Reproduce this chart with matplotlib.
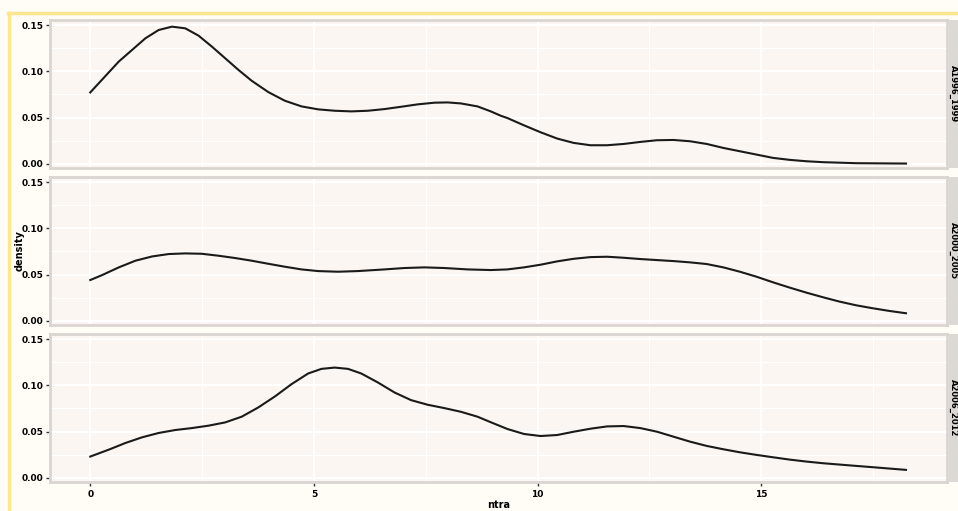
import matplotlib.pyplot as plt
from matplotlib.ticker import MultipleLocator

# density curves, one per period
periods = ["A1996_1999", "A2000_2005", "A2006_2012"]

x1 = [0.0, 0.638, 1.232, 1.529, 1.826, 2.123, 2.420, 2.717, 3.014, 3.311, 3.608, 3.979,
      4.350, 4.722, 5.093, 5.464, 5.835, 6.206, 6.578, 6.949, 7.320, 7.691, 7.988, 8.285,
      8.656, 8.953, 9.176, 9.324, 9.696, 10.067, 10.438, 10.809, 11.180, 11.552, 11.923,
      12.294, 12.665, 13.036, 13.408, 13.779, 14.150, 14.521, 14.892, 15.264, 15.635,
      16.006, 16.377, 17.119, 18.233]
d1 = [0.0772, 0.1106, 0.1357, 0.1447, 0.1483, 0.1465, 0.1386, 0.1268, 0.1142, 0.1016,
      0.0898, 0.0776, 0.0682, 0.0621, 0.0589, 0.0574, 0.0567, 0.0574, 0.0592, 0.0617,
      0.0643, 0.0661, 0.0664, 0.0653, 0.0621, 0.0567, 0.0520, 0.0495, 0.0416, 0.0341,
      0.0273, 0.0226, 0.0201, 0.0201, 0.0215, 0.0237, 0.0255, 0.0258, 0.0244, 0.0215,
      0.0172, 0.0136, 0.0100, 0.0064, 0.0043, 0.0028, 0.0018, 0.0007, 0.0003]

x2 = [0.0, 0.267, 0.638, 1.009, 1.381, 1.752, 2.123, 2.494, 2.866, 3.237, 3.608, 3.979,
      4.350, 4.722, 5.093, 5.538, 5.984, 6.578, 7.023, 7.468, 7.914, 8.434, 8.953, 9.324,
      9.696, 10.067, 10.438, 10.809, 11.180, 11.552, 11.923, 12.294, 12.665, 13.036,
      13.408, 13.779, 14.150, 14.521, 14.892, 15.264, 15.635, 16.006, 16.377, 16.748,
      17.119, 17.490, 17.862, 18.233]
d2 = [0.0441, 0.0495, 0.0578, 0.0650, 0.0696, 0.0722, 0.0729, 0.0725, 0.0704, 0.0679,
      0.0650, 0.0617, 0.0585, 0.0556, 0.0538, 0.0531, 0.0538, 0.0556, 0.0571, 0.0578,
      0.0571, 0.0556, 0.0549, 0.0556, 0.0578, 0.0607, 0.0643, 0.0671, 0.0689, 0.0693,
      0.0682, 0.0668, 0.0657, 0.0646, 0.0632, 0.0614, 0.0578, 0.0531, 0.0477, 0.0416,
      0.0359, 0.0305, 0.0255, 0.0208, 0.0168, 0.0136, 0.0107, 0.0082]

x3 = [0.0, 0.416, 0.787, 1.158, 1.529, 1.901, 2.272, 2.643, 3.014, 3.385, 3.756, 4.128,
      4.499, 4.870, 5.167, 5.464, 5.761, 6.058, 6.429, 6.800, 7.171, 7.543, 7.914, 8.285,
      8.656, 8.953, 9.324, 9.696, 10.067, 10.438, 10.809, 11.180, 11.552, 11.923, 12.294,
      12.665, 13.036, 13.408, 13.779, 14.150, 14.521, 14.892, 15.264, 15.635, 16.006,
      16.377, 17.119, 17.490, 18.233]
d3 = [0.0230, 0.0305, 0.0377, 0.0438, 0.0485, 0.0517, 0.0538, 0.0564, 0.0599, 0.0661,
      0.0761, 0.0880, 0.1013, 0.1128, 0.1178, 0.1192, 0.1178, 0.1128, 0.1031, 0.0923,
      0.0840, 0.0790, 0.0754, 0.0714, 0.0661, 0.0601, 0.0528, 0.0474, 0.0452, 0.0463,
      0.0499, 0.0531, 0.0556, 0.0560, 0.0538, 0.0499, 0.0445, 0.0391, 0.0345, 0.0309,
      0.0276, 0.0248, 0.0222, 0.0197, 0.0176, 0.0158, 0.0129, 0.0115, 0.0086]

xs = [x1, x2, x3]
ds = [d1, d2, d3]

W, H = 958, 511
fig = plt.figure(figsize=(W / 100, H / 100), dpi=100)
fig.patch.set_facecolor("#fffdf6")

# yellow frame lines (top and left)
fig.add_artist(plt.Line2D([8 / W, 1], [1 - 13 / H, 1 - 13 / H], color="#fde690", lw=2.5))
fig.add_artist(plt.Line2D([9 / W, 9 / W], [0, 1 - 13 / H], color="#fde690", lw=2.5))

left, right = 50, 947
tops = [20, 177, 334]
ph = 148

for i in range(3):
    ax = fig.add_axes([left / W, 1 - (tops[i] + ph) / H, (right - left) / W, ph / H])
    ax.set_facecolor("#fbf6f1")
    ax.plot(xs[i], ds[i], color="#1a1a1a", lw=1.5)
    ax.set_xlim(-0.9, 19.15)
    ax.set_ylim(-0.0045, 0.1555)
    ax.xaxis.set_major_locator(MultipleLocator(5))
    ax.xaxis.set_minor_locator(MultipleLocator(2.5))
    ax.yaxis.set_major_locator(MultipleLocator(0.05))
    ax.yaxis.set_minor_locator(MultipleLocator(0.025))
    ax.grid(which="major", color="white", lw=1.6)
    ax.grid(which="minor", color="white", lw=0.8)
    ax.set_axisbelow(True)
    for s in ax.spines.values():
        s.set_color("#dad5d0")
        s.set_linewidth(2)
    ax.tick_params(axis="y", which="major", length=3, width=1, color="#333333",
                   labelsize=6.5, pad=1.5)
    ax.tick_params(which="minor", length=0)
    ax.set_yticks([0, 0.05, 0.10, 0.15])
    ax.set_yticklabels(["0.00", "0.05", "0.10", "0.15"], fontweight="bold")
    if i < 2:
        ax.tick_params(axis="x", which="major", length=0, labelbottom=False)
    else:
        ax.tick_params(axis="x", which="major", length=3, width=1, color="#333333",
                       labelsize=6.5, pad=3)
        ax.set_xticks([0, 5, 10, 15])
        ax.set_xticklabels(["0", "5", "10", "15"], fontweight="bold")

    # facet strip on the right (runs past the figure edge, as in the reference)
    sx = fig.add_axes([949 / W, 1 - (tops[i] + ph) / H, 22 / W, ph / H])
    sx.set_facecolor("#dcd8d3")
    sx.set_xticks([])
    sx.set_yticks([])
    for s in sx.spines.values():
        s.set_visible(False)
    sx.text(0.22, 0.5, periods[i], rotation=-90, ha="center", va="center",
            fontsize=6, fontweight="bold", transform=sx.transAxes)

fig.text(499 / W, 1 - 505 / H, "ntra", ha="center", va="center",
         fontsize=7, fontweight="bold")
fig.text(20 / W, 1 - 251 / H, "density", rotation=90, ha="center", va="center",
         fontsize=7, fontweight="bold")

fig.savefig("out.png", dpi=100, facecolor=fig.get_facecolor())
